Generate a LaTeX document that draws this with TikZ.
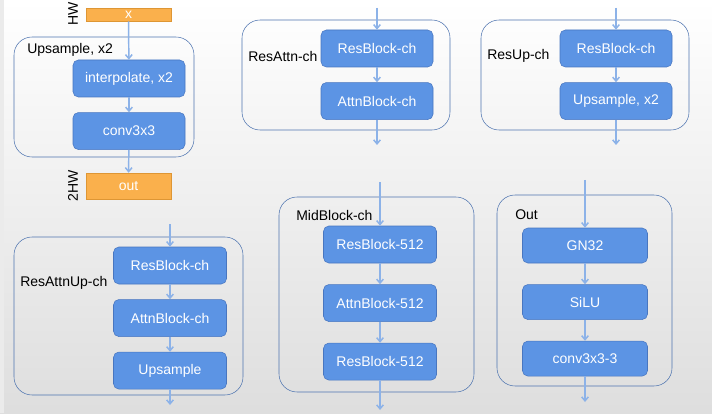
\documentclass[tikz,border=0pt]{standalone}
\usepackage{fontspec}
\setmainfont{Liberation Sans}
\usetikzlibrary{positioning,arrows.meta}

\definecolor{blkfill}{RGB}{92,148,228}
\definecolor{blkline}{RGB}{72,118,192}
\definecolor{grpline}{RGB}{78,116,176}
\definecolor{iofill}{RGB}{250,176,76}
\definecolor{ioline}{RGB}{222,150,52}
\definecolor{flowcol}{RGB}{140,178,232}

\tikzset{
  blk/.style={draw=blkline, fill=blkfill, rounded corners=4pt, text=white,
    minimum width=84pt, minimum height=27.75pt, inner sep=0pt},
  grp/.style={draw=grpline, rounded corners=13.5pt, minimum width=#1, inner sep=0pt},
  io/.style={draw=ioline, fill=iofill, text=white, minimum width=63.75pt, inner sep=0pt},
  dimlbl/.style={rotate=90, inner sep=0pt},
  grplbl/.style={anchor=west, inner sep=0pt},
  flow/.style={draw=flowcol, line width=1.1pt, -{Straight Barb[length=3pt,width=5pt]}}
}

\begin{document}
\begin{tikzpicture}[x=0.75pt, y=-0.75pt, node distance=11.25pt,
    every node/.style={font=\fontsize{10.5}{12}\selectfont}]
  % background
  \shade[top color=white, bottom color=black!13] (0,0) rectangle (712,413);
  \fill[black!8] (0,0) rectangle (4,413);
  \useasboundingbox (0,0) rectangle (712,413);

  % Upsample, x2
  \node (c1) [grp=135pt, minimum height=90pt] at (104,97) {};
  \node (t1) [grplbl] at (27,50) {Upsample, x2};
  \node (x)  [io, minimum height=9.75pt] at (128.5,14.5) {x};
  \node (hw) [dimlbl] at (73,14) {HW};
  \node (interp) [blk] at (129,78.5) {interpolate, x2};
  \node (conv)   [blk, below=of interp] {conv3x3};
  \node (out) [io, minimum height=19.5pt] at (128.5,186) {out};
  \node (hw2) [dimlbl] at (73,186) {2HW};
  \draw[flow] (x) -- (interp);
  \draw[flow] (interp) -- (conv);
  \draw[flow] (conv) -- (out);

  % ResAttn-ch
  \node (c2) [grp=156pt, minimum height=82.5pt] at (346,75) {};
  \node (t2) [grplbl] at (248,56) {ResAttn-ch};
  \node (rb2) [blk] at (377,48.5) {ResBlock-ch};
  \node (ab2) [blk, below=of rb2] {AttnBlock-ch};
  \coordinate (in2) at (377,8);
  \coordinate (out2) at (377,145);
  \draw[flow] (in2) -- (rb2);
  \draw[flow] (rb2) -- (ab2);
  \draw[flow] (ab2) -- (out2);

  % ResUp-ch
  \node (c3) [grp=156pt, minimum height=82.5pt] at (585,75) {};
  \node (t3) [grplbl] at (487,56) {ResUp-ch};
  \node (rb3) [blk] at (616,48.5) {ResBlock-ch};
  \node (up3) [blk, below=of rb3] {Upsample, x2};
  \coordinate (in3) at (616,8);
  \coordinate (out3) at (616,145);
  \draw[flow] (in3) -- (rb3);
  \draw[flow] (rb3) -- (up3);
  \draw[flow] (up3) -- (out3);

  % ResAttnUp-ch
  \node (c4) [grp=171.75pt, minimum height=118.5pt] at (128.5,316) {};
  \node (t4) [grplbl] at (20,283) {ResAttnUp-ch};
  \node (rb4) [blk, minimum width=84.75pt] at (170,265.5) {ResBlock-ch};
  \node (ab4) [blk, minimum width=84.75pt, below=of rb4] {AttnBlock-ch};
  \node (up4) [blk, minimum width=84.75pt, below=of ab4] {Upsample};
  \coordinate (in4) at (170,224);
  \coordinate (out4) at (170,405);
  \draw[flow] (in4) -- (rb4);
  \draw[flow] (rb4) -- (ab4);
  \draw[flow] (ab4) -- (up4);
  \draw[flow] (up4) -- (out4);

  % MidBlock-ch
  \node (c5) [grp=146.25pt, minimum height=146.25pt] at (376.5,294.5) {};
  \node (t5) [grplbl] at (296,215) {MidBlock-ch};
  \node (rb5) [blk, minimum width=84.75pt] at (380,244.5) {ResBlock-512};
  \node (ab5) [blk, minimum width=84.75pt, below=15.75pt of rb5] {AttnBlock-512};
  \node (rc5) [blk, minimum width=84.75pt, below=15.75pt of ab5] {ResBlock-512};
  \coordinate (in5) at (380,182);
  \coordinate (out5) at (380,410);
  \draw[flow] (in5) -- (rb5);
  \draw[flow] (rb5) -- (ab5);
  \draw[flow] (ab5) -- (rc5);
  \draw[flow] (rc5) -- (out5);

  % Out
  \node (c6) [grp=131.25pt, minimum height=143.25pt] at (584.5,290.5) {};
  \node (t6) [grplbl] at (515,215) {Out};
  \node (gn)   [blk, minimum width=93.75pt, minimum height=26.25pt] at (585,245.5) {GN32};
  \node (silu) [blk, minimum width=93.75pt, minimum height=26.25pt, below=15.75pt of gn] {SiLU};
  \node (cv6)  [blk, minimum width=93.75pt, minimum height=26.25pt, below=15.75pt of silu] {conv3x3-3};
  \coordinate (in6) at (585,180);
  \coordinate (out6) at (585,402);
  \draw[flow] (in6) -- (gn);
  \draw[flow] (gn) -- (silu);
  \draw[flow] (silu) -- (cv6);
  \draw[flow] (cv6) -- (out6);
\end{tikzpicture}
\end{document}
